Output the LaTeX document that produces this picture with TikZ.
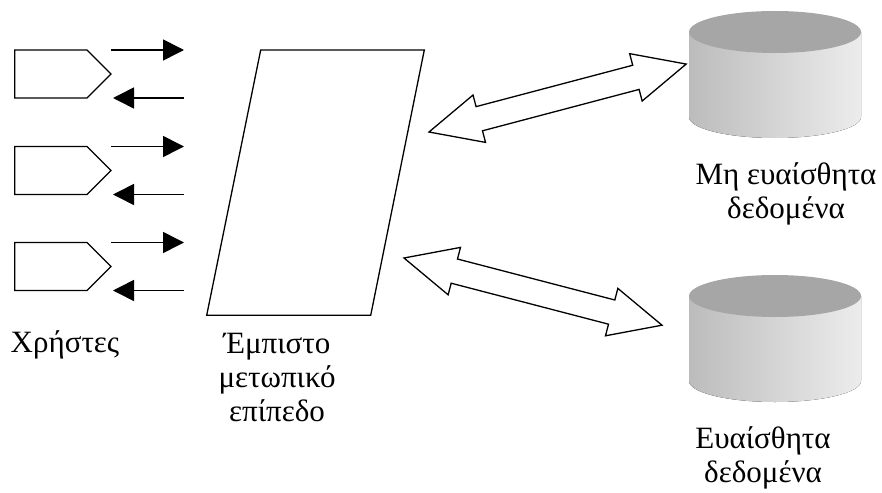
\documentclass[tikz,border=0pt]{standalone}
\usepackage{fontspec}
\setmainfont{Liberation Serif}
\usetikzlibrary{arrows.meta}
\definecolor{cylTop}{RGB}{166,166,166}
\definecolor{cylL}{RGB}{188,188,188}
\definecolor{cylR}{RGB}{236,236,236}
\begin{document}
\begin{tikzpicture}[x=1pt,y=-1pt,
  outline/.style={draw=black,line width=1.3pt,line join=miter},
  flow/.style={line width=1.6pt,-{Triangle[length=21pt,width=21pt]}},
  lbl/.style={font=\fontsize{31}{34}\selectfont,align=center,anchor=base,inner sep=0pt},
  dbcyl/.pic={
    \fill[left color=cylL,right color=cylR] (-86,0) -- (-86,85)
      arc[start angle=180,end angle=0,x radius=86,y radius=21] -- (86,0) -- cycle;
    \fill[cylTop] (0,0) ellipse[x radius=86,y radius=21];
  }]
\useasboundingbox (0,0) rectangle (882,492);

% users (pentagons) and their arrows
\foreach \t/\n in {50/1,146.5/2,242.5/3}{
  \draw[outline] (14.7,\t) -- (87,\t) -- (111,\t+24) -- (87,\t+48) -- (14.7,\t+48) -- cycle;
  \coordinate (o\n s) at (111,\t);
  \coordinate (o\n e) at (184,\t);
  \coordinate (i\n s) at (184,\t+48);
  \coordinate (i\n e) at (113,\t+48);
  \draw[flow] (o\n s) -- (o\n e);
  \draw[flow] (i\n s) -- (i\n e);
}

% trusted front end (parallelogram)
\coordinate (p1) at (260.7,50);
\coordinate (p2) at (424.3,50);
\coordinate (p3) at (370.7,315.3);
\coordinate (p4) at (206.7,315.3);
\draw[outline] (p1) -- (p2) -- (p3) -- (p4) -- cycle;

% double arrows
\coordinate (da1) at (429,132);
\coordinate (da2) at (404,258);
\begin{scope}[shift={(da1)},rotate=14.8]
  \draw[outline,fill=white] (0,0) -- (52,-24.5) -- (52,-12.5) -- (214,-12.5) -- (214,-24.5)
    -- (266,0) -- (214,24.5) -- (214,12.5) -- (52,12.5) -- (52,24.5) -- cycle;
\end{scope}
\begin{scope}[shift={(da2)},rotate=-14.6]
  \draw[outline,fill=white] (0,0) -- (52,-24.5) -- (52,-12.5) -- (214.6,-12.5) -- (214.6,-24.5)
    -- (266.6,0) -- (214.6,24.5) -- (214.6,12.5) -- (52,12.5) -- (52,24.5) -- cycle;
\end{scope}

% databases
\pic at (775,32) {dbcyl};
\pic at (775,296) {dbcyl};

% labels (base anchor = baseline of last line)
\node[lbl] (users) at (65,352) {Χρήστες};
\node[lbl] (front) at (277,421) {Έμπιστο\\μετωπικό\\επίπεδο};
\node[lbl] (nsdata) at (786,218) {Μη ευαίσθητα\\δεδομένα};
\node[lbl] (sdata) at (763,482) {Ευαίσθητα\\δεδομένα};
\end{tikzpicture}
\end{document}
